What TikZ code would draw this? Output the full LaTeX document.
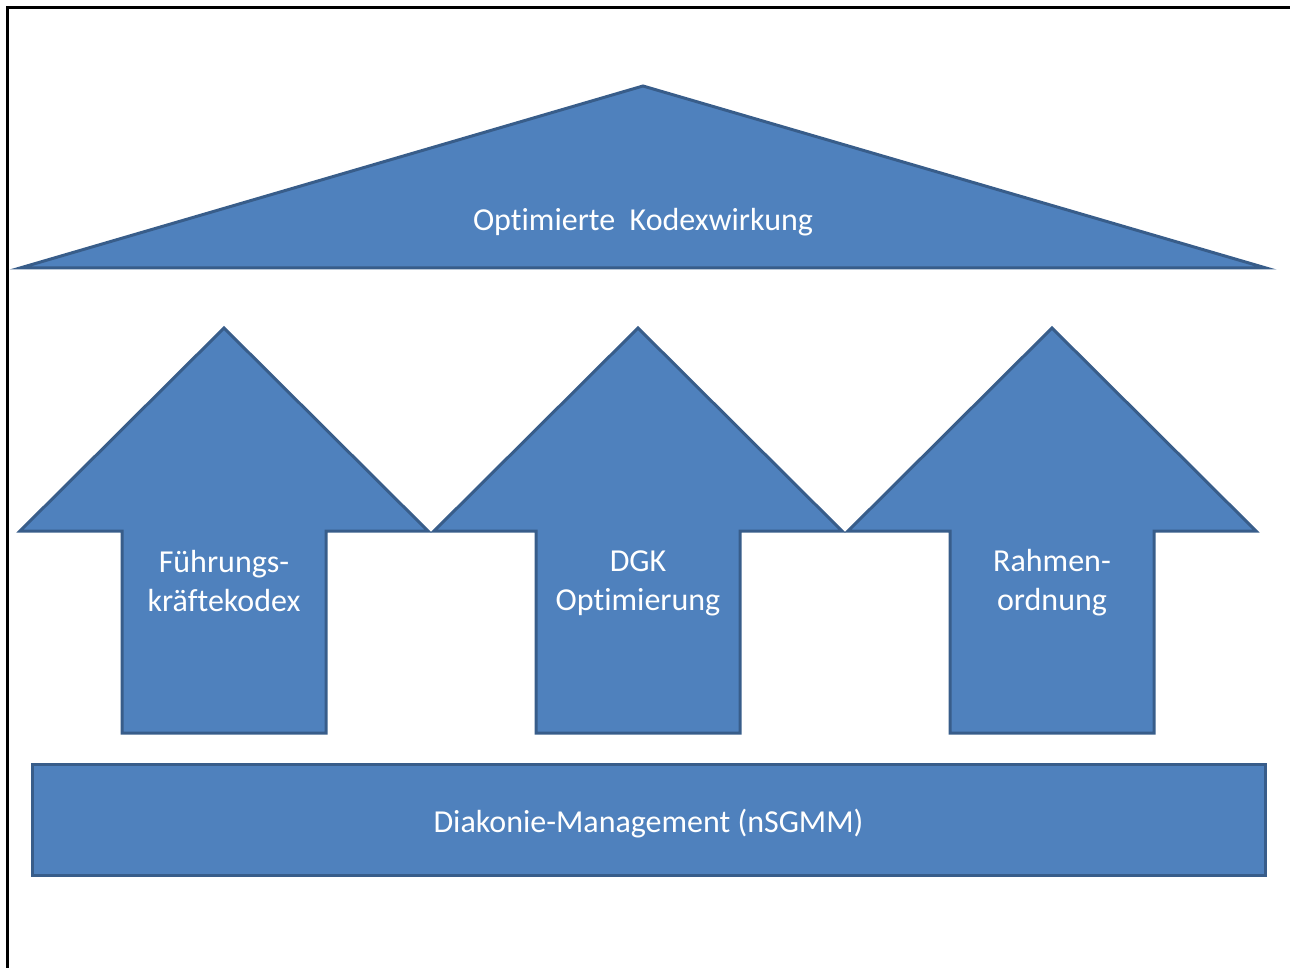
\documentclass[tikz,border=0pt]{standalone}
\usepackage{fontspec}
\setmainfont{Carlito}[RawFeature={-liga,-calt,-clig,-dlig}]
\definecolor{fillblue}{HTML}{4F81BD}
\definecolor{edgeblue}{HTML}{385D8A}
\begin{document}
\begin{tikzpicture}[x=1pt,y=-1pt,
  shapeblue/.style={fill=fillblue,draw=edgeblue,line width=3pt,line join=miter},
  label/.style={text=white,font=\fontsize{32}{39}\selectfont,align=center,inner sep=0pt}]
\useasboundingbox (0,0) rectangle (1290,968);
% frame
\draw[line width=3pt] (7,968) -- (7,7.5) -- (1290,7.5);
% roof
\draw[shapeblue] (643,86) -- (1266,268) -- (20,268) -- cycle;
\node[label] (roof) at (643,222) {Opt\kern0ptimierte\ \ Kodexwirkung};
% arrows
\foreach \cx/\nm in {224/a1,638/a2,1052/a3}{
  \draw[shapeblue] (\cx,328) -- (\cx+204,531) -- (\cx+102,531) -- (\cx+102,733)
     -- (\cx-102,733) -- (\cx-102,531) -- (\cx-204,531) -- cycle;
}
\node[label] (t1) at (224,581) {Führungs-\\kräftekodex};
\node[label] (t2) at (638,583) {DGK\\Opt\kern0ptimierung};
\node[label] (t3) at (1052,583) {Rahmen-\\ordnung};
% base
\draw[shapeblue] (32,764) rectangle (1265,875);
\node[label] (base) at (648.5,824) {Diakonie-Management (nSGMM)};
\end{tikzpicture}
\end{document}
